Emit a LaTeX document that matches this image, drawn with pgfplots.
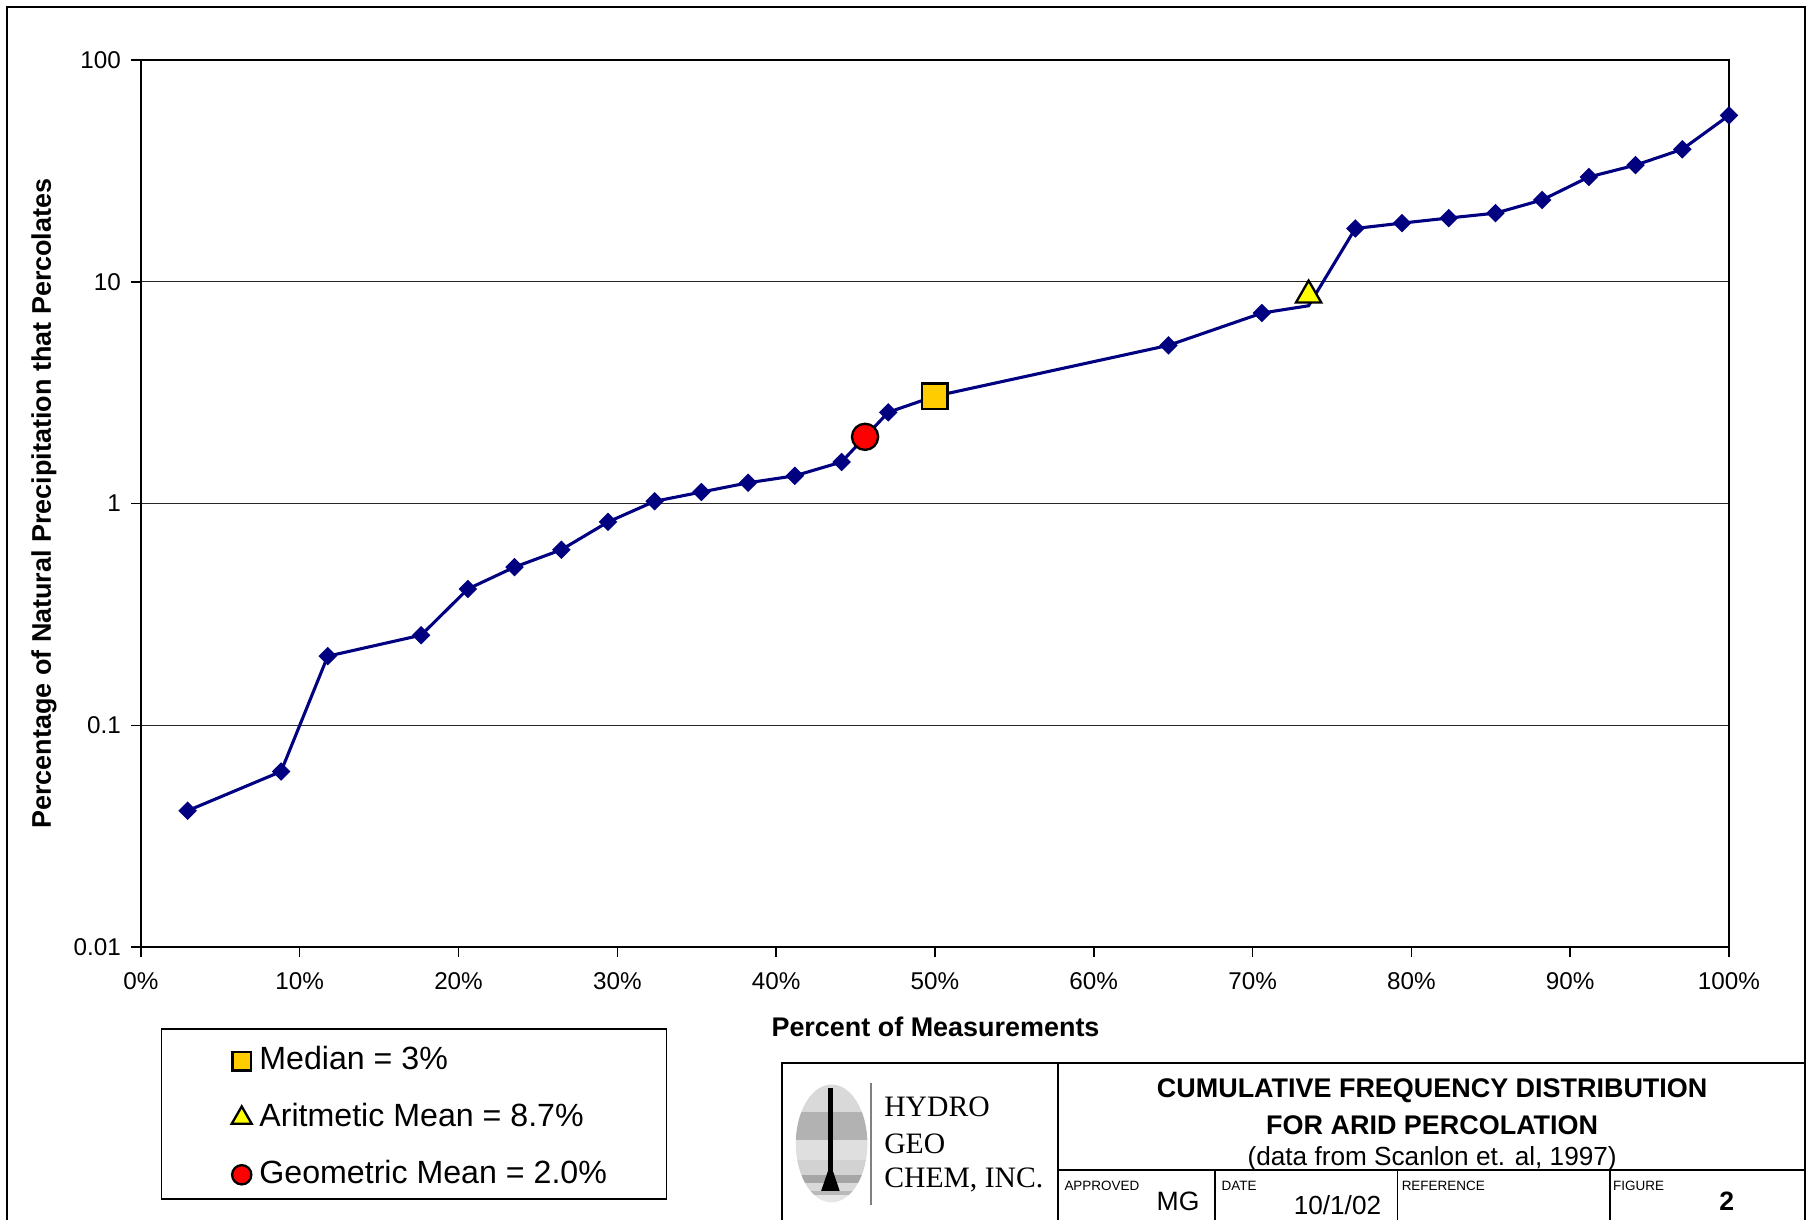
\documentclass[border=0pt]{standalone}
\usepackage{fontspec}
\setmainfont{Liberation Sans}
\newfontfamily\seriffont{Liberation Serif}
\usepackage{pgfplots}
\pgfplotsset{compat=1.18}
\definecolor{navyline}{RGB}{0,0,128}
\definecolor{medfill}{RGB}{255,204,0}
\definecolor{amfill}{RGB}{255,255,0}
\definecolor{gmfill}{RGB}{255,0,0}
\begin{document}
\begin{tikzpicture}[x=0.3pt,y=0.3pt]
\useasboundingbox (0,0) rectangle (1568,-1056);
% outer frame
\draw[line width=0.6pt] (6,-6) rectangle (1563,-1060);
\begin{axis}[
  at={(36.6pt,-15.6pt)}, anchor=north west,
  scale only axis, width=412.5pt, height=230.4pt,
  ymode=log, xmin=0, xmax=100, ymin=0.01, ymax=100,
  xtick={0,10,...,100},
  xticklabels={0\%,10\%,20\%,30\%,40\%,50\%,60\%,70\%,80\%,90\%,100\%},
  ytick={0.01,0.1,1,10,100},
  yticklabels={0.01,0.1,1,10,100},
  yminorticks=false,
  xtick pos=left, ytick pos=left,
  tick align=outside, major tick length=2.5pt,
  tick style={black, line width=0.4pt},
  ymajorgrids, grid style={black!85, line width=0.35pt},
  axis line style={black, line width=0.5pt},
  ticklabel style={font=\fontsize{6.3}{7}\selectfont},
  xticklabel style={inner sep=0pt, yshift=-4pt},
  yticklabel style={inner sep=0pt, xshift=-2.5pt},
  clip=false,
  legend style={at={(0.0567,-0.1927)}, anchor=west, draw=none, fill=none,
    inner sep=0pt, row sep=5.2pt, column sep=1pt,
    font=\fontsize{8.35}{9}\selectfont,
    nodes={inner sep=1pt}},
  legend cell align=left,
  legend image code/.code={\draw[mark repeat=2,mark phase=2,#1] plot coordinates {(0pt,0pt) (2.6pt,0pt) (5.2pt,0pt)};},
]
\addplot[navyline, line width=0.8pt, mark=square*, mark size=1.3pt,
  mark options={rotate=45, fill=navyline, draw=navyline},
  mark indices={1,2,3,4,5,6,7,8,9,10,11,12,13,14,16,17,19,20,21,22,23,24,25,26,27},
  forget plot] coordinates {
(2.941,0.0412) (8.824,0.0619) (11.765,0.205) (17.647,0.255) (20.588,0.412)
(23.529,0.517) (26.471,0.619) (29.412,0.826) (32.353,1.024) (35.294,1.127)
(38.235,1.241) (41.176,1.334) (44.118,1.54) (47.059,2.58) (50.000,3.05)
(64.706,5.17) (70.588,7.23) (73.529,7.8) (76.471,17.4) (79.412,18.4)
(82.353,19.4) (85.294,20.4) (88.235,23.4) (91.176,29.7) (94.118,33.6)
(97.059,39.6) (100,56.3)};
\addplot[only marks, mark=square*, mark size=3.3pt,
  mark options={fill=medfill, draw=black, line width=0.6pt},
  legend image post style={mark size=2.4pt}] coordinates {(50,3.05)};
\addlegendentry{Median = 3\%}
\addplot[only marks, mark=triangle*, mark size=3.8pt,
  mark options={fill=amfill, draw=black, line width=0.6pt},
  legend image post style={mark size=3.0pt}] coordinates {(73.53,8.7)};
\addlegendentry{Aritmetic Mean = 8.7\%}
\addplot[only marks, mark=*, mark size=3.4pt,
  mark options={fill=gmfill, draw=black, line width=0.6pt},
  legend image post style={mark size=2.5pt}] coordinates {(45.6,2.0)};
\addlegendentry{Geometric Mean = 2.0\%}
\end{axis}
% axis labels
\node[rotate=90, font=\bfseries\fontsize{7}{8}\selectfont] at (38,-436) {Percentage of Natural Precipitation that Percolates};
\node[font=\bfseries\fontsize{7}{8}\selectfont] at (810,-889) {Percent of Measurements};
% legend box
\draw[line width=0.4pt] (140,-891) rectangle (577,-1038);
% title block
\draw[line width=0.5pt] (677,-920) rectangle (1563,-1060);
\draw[line width=0.5pt] (916,-920) -- (916,-1060);
\draw[line width=0.5pt] (916,-1013) -- (1563,-1013);
\foreach \xx in {1052,1210,1394} \draw[line width=0.5pt] (\xx,-1013) -- (\xx,-1060);
% logo
\begin{scope}
\clip (720,-990) ellipse [x radius=31, y radius=51];
\fill[gray!30] (680,-935) rectangle (760,-963);
\fill[gray!60] (680,-963) rectangle (760,-987);
\fill[gray!25] (680,-987) rectangle (760,-1004);
\fill[gray!35] (680,-1004) rectangle (760,-1017);
\fill[gray!70] (680,-1017) rectangle (760,-1024);
\fill[gray!30] (680,-1024) rectangle (760,-1031);
\fill[gray!55] (680,-1031) rectangle (760,-1035);
\fill[gray!20] (680,-1035) rectangle (760,-1045);
\end{scope}
\draw[line width=1.2pt] (719,-942) -- (719,-1015);
\fill (717.5,-1012) -- (720.5,-1012) -- (727,-1031) -- (711,-1031) -- cycle;
\draw[gray, line width=0.4pt] (754,-938) -- (754,-1043);
\begin{scope}[font=\seriffont\fontsize{7.7}{8}\selectfont]
\node[anchor=west, inner sep=0pt] at (765,-958) {HYDRO};
\node[anchor=west, inner sep=0pt] at (765,-990) {GEO};
\node[anchor=west, inner sep=0pt] at (765,-1022) {CHEM, INC.};
\end{scope}
\node[font=\bfseries\fontsize{7}{8}\selectfont] at (1240,-944) {CUMULATIVE FREQUENCY DISTRIBUTION};
\node[font=\bfseries\fontsize{7}{8}\selectfont] at (1240,-974) {FOR ARID PERCOLATION};
\node[font=\fontsize{6.8}{8}\selectfont] at (1240,-1003) {(data from Scanlon et. al, 1997)};
\begin{scope}[font=\fontsize{3.5}{4}\selectfont]
\node[anchor=west, inner sep=0pt] at (921,-1027) {APPROVED};
\node[anchor=west, inner sep=0pt] at (1057,-1027) {DATE};
\node[anchor=west, inner sep=0pt] at (1213,-1027) {REFERENCE};
\node[anchor=west, inner sep=0pt] at (1396,-1027) {FIGURE};
\end{scope}
\node[font=\fontsize{6.9}{8}\selectfont] at (1020,-1040) {MG};
\node[font=\fontsize{6.8}{8}\selectfont] at (1158,-1043) {10/1/02};
\node[font=\bfseries\fontsize{6.9}{8}\selectfont] at (1495,-1040) {2};
\end{tikzpicture}
\end{document}
